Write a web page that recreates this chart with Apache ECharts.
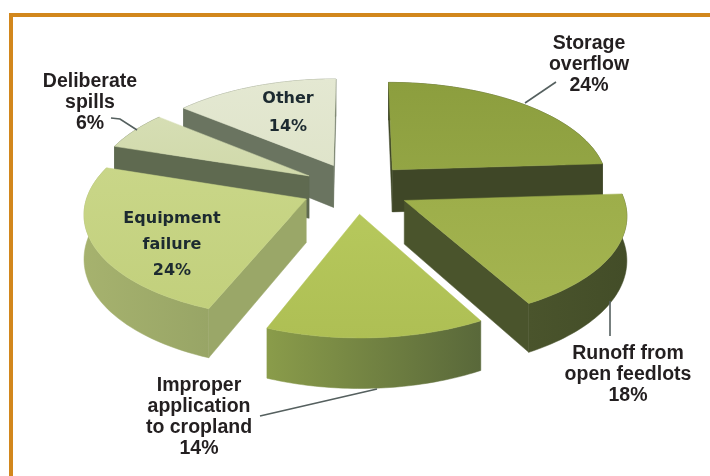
<!DOCTYPE html>
<html>
<head>
<meta charset="utf-8">
<style>
  html, body { margin: 0; padding: 0; background: #fff; }
  #chart { width: 710px; height: 476px; }
</style>
<script src="https://cdn.jsdelivr.net/npm/echarts@6/dist/echarts.min.js"></script>
</head>
<body>
<div id="chart"></div>
<script>
// data
var names = ['Storage\noverflow', 'Runoff from\nopen feedlots', 'Improper\napplication\nto cropland', 'Equipment\nfailure', 'Deliberate\nspills', 'Other'];
var shares = [24, 18, 14, 24, 6, 14];

// colours per slice
var topColors = [['#8c9e3e', '#93a544'], ['#9dae4a', '#a4b450'], ['#b6c85c', '#aebf54'], ['#c9d688', '#c2d07c'], ['#d6deb4', '#d0d9aa'], ['#e4e8d2', '#dfe4ca']];
var rimColors = [['#3f4727', '#444c2a'], ['#4a542c', '#434d28'], ['#8a9c4a', '#59683a'], ['#a6b26e', '#98a566'], ['#5f6a50', '#5f6a50'], ['#6a7460', '#6a7460']];
var cutColors = ['#3f4727', '#4a542c', '#6a7a3c', '#9aa768', '#5f6a50', '#6a7460'];

// pie geometry
var cx = 356, cy = 188, rx = 217, ry = 102, persp = 0.12, depth = 43, explode = 0.25;

function project(X, Y, z) {
  var s = 1 / (1 - persp * Y);
  return [cx + rx * X * s, cy + ry * Y * s + depth * z * s];
}

// clockwise from 12 o'clock
var slices = [];
var total = shares.reduce(function (a, b) { return a + b; }, 0);
var acc = 0;
shares.forEach(function (v, i) {
  var start = acc / total * Math.PI * 2;
  acc += v;
  var end = acc / total * Math.PI * 2;
  slices.push([start, end, i]);
});
// back slices first
slices.sort(function (a, b) {
  return -Math.cos((a[0] + a[1]) / 2) - -Math.cos((b[0] + b[1]) / 2);
});

// a cut face shows only when the slice lies above its top edge
function cutVisible(apex, tip, other) {
  var ex = tip[0] - apex[0], ey = tip[1] - apex[1];
  var side = ex * (other[1] - apex[1]) - ey * (other[0] - apex[0]);
  return side * ex < 0;
}

function renderSlice(params, api) {
  var start = api.value(0), end = api.value(1), i = api.value(2);
  var mid = (start + end) / 2;
  var ox = explode * Math.sin(mid), oy = -explode * Math.cos(mid);
  var arcTop = [], arcBottom = [];
  var steps = 48;
  for (var k = 0; k <= steps; k++) {
    var t = start + (end - start) * k / steps;
    var X = ox + Math.sin(t), Y = oy - Math.cos(t);
    arcTop.push(project(X, Y, 0));
    arcBottom.push(project(X, Y, 1));
  }
  var apexTop = project(ox, oy, 0), apexBottom = project(ox, oy, 1);
  var first = arcTop[0], firstB = arcBottom[0], last = arcTop[steps], lastB = arcBottom[steps];

  function poly(points, fill) {
    return { type: 'polygon', shape: { points: points }, style: { fill: fill, stroke: fill, lineWidth: 0.5 } };
  }
  function grad(c, vertical) {
    return new echarts.graphic.LinearGradient(0, 0, vertical ? 0 : 1, vertical ? 1 : 0, [
      { offset: 0, color: c[0] }, { offset: 1, color: c[1] }
    ]);
  }
  var children = [poly(arcTop.concat(arcBottom.slice().reverse()), grad(rimColors[i], false))];
  if (cutVisible(apexTop, first, last)) {
    children.push(poly([apexTop, first, firstB, apexBottom], cutColors[i]));
  }
  if (cutVisible(apexTop, last, first)) {
    children.push(poly([apexTop, last, lastB, apexBottom], cutColors[i]));
  }
  children.push(poly([apexTop].concat(arcTop), grad(topColors[i], true)));
  return { type: 'group', children: children };
}

function labelText(x, y, text, style) {
  return {
    type: 'text', x: x, y: y, z: 10, silent: true,
    style: Object.assign({ text: text, textAlign: 'center', textVerticalAlign: 'middle' }, style)
  };
}
function leader(points) {
  return {
    type: 'polyline', z: 9, silent: true, shape: { points: points },
    style: { stroke: '#55605f', lineWidth: 1.6, fill: null }
  };
}

var outer = { font: 'bold 19.5px "Liberation Sans", Arial, sans-serif', fill: '#231f20', lineHeight: 21 };
var inner = { font: 'bold 16px "DejaVu Sans", sans-serif', fill: '#1c2a30', lineHeight: 26 };

var chart = echarts.init(document.getElementById('chart'), null, { renderer: 'canvas' });
chart.setOption({
  animation: false,
  backgroundColor: '#ffffff',
  graphic: { elements: [
    { type: 'rect', z: 1, silent: true, shape: { x: 9, y: 13, width: 4, height: 463 }, style: { fill: '#d2871c' } },
    { type: 'rect', z: 1, silent: true, shape: { x: 9, y: 13, width: 701, height: 4 }, style: { fill: '#d2871c' } },
    leader([[525, 103], [556, 82]]),
    leader([[111, 118], [120, 119], [137, 130]]),
    leader([[260, 416], [377, 389]]),
    leader([[610, 301], [610, 336]]),
    labelText(589, 65, names[0] + '\n' + shares[0] + '%', outer),
    labelText(628, 375, names[1] + '\n' + shares[1] + '%', outer),
    labelText(199, 417, names[2] + '\n' + shares[2] + '%', outer),
    labelText(90, 103, names[4] + '\n' + shares[4] + '%', outer),
    labelText(172, 245, names[3] + '\n' + shares[3] + '%', inner),
    labelText(288, 113, names[5] + '\n' + shares[5] + '%', Object.assign({}, inner, { lineHeight: 28 }))
  ] },
  series: [{
    type: 'custom',
    coordinateSystem: 'none',
    renderItem: renderSlice,
    data: slices,
    silent: true
  }]
});
</script>
</body>
</html>
